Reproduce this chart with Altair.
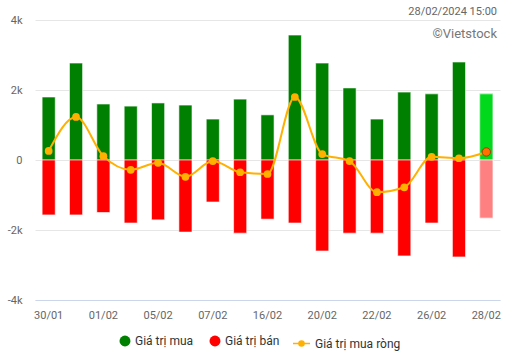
import altair as alt
import pandas as pd

dates = ["30/01", "31/01", "01/02", "02/02", "05/02", "06/02", "07/02", "08/02", "16/02",
         "19/02", "20/02", "21/02", "22/02", "23/02", "26/02", "27/02", "28/02"]
shown_labels = ["30/01", "01/02", "05/02", "07/02", "16/02", "20/02", "22/02", "26/02", "28/02"]
buy = [1800, 2770, 1600, 1540, 1630, 1570, 1170, 1740, 1290, 3570, 2770, 2060, 1170, 1940, 1890, 2800, 1890]
sell = [-1570, -1570, -1500, -1800, -1710, -2060, -1200, -2090, -1690, -1800, -2600, -2090, -2090, -2740, -1800, -2770, -1660]
net = [260, 1230, 110, -280, -80, -480, -30, -350, -400, 1800, 170, -30, -920, -780, 90, 50, 230]
series_names = ["Giá trị mua", "Giá trị bán", "Giá trị mua ròng"]
stamp = ["28/02/2024 15:00"]
source = ["©Vietstock"]
last_date = dates[-1]

bars_df = pd.DataFrame(
    [{"date": d, "series": series_names[0], "value": v} for d, v in zip(dates, buy)]
    + [{"date": d, "series": series_names[1], "value": v} for d, v in zip(dates, sell)]
)
net_df = pd.DataFrame({"date": dates, "value": net, "series": [series_names[2]] * len(dates)})

FONT = "Roboto"
GREEN, RED, ORANGE = "#008000", "#ff0000", "#ffb000"

x_axis = alt.Axis(values=shown_labels, title=None, labelAngle=0, labelColor="#666666",
                  labelFontSize=11, labelFont=FONT, ticks=False, domainColor="#ccd6eb",
                  labelPadding=9, grid=False)
y_axis = alt.Axis(values=[-4000, -2000, 0, 2000, 4000], title=None,
                  labelExpr="datum.value == 0 ? '0' : datum.value/1000 + 'k'",
                  labelColor="#666666", labelFontSize=11, labelFont=FONT,
                  ticks=False, domain=False, gridColor="#e6e6e6", labelPadding=13)
x_scale = alt.Scale(paddingInner=0.52, paddingOuter=0.26)
y_scale = alt.Scale(domain=[-4000, 4000], nice=False)


def X():
    return alt.X("date:N", sort=dates, scale=x_scale, axis=x_axis)


def Y():
    return alt.Y("value:Q", stack=None, scale=y_scale, axis=y_axis)


bars = alt.Chart(bars_df).mark_bar(stroke="white", strokeWidth=1, strokeOpacity=0.6).encode(
    x=X(), y=Y(),
    color=alt.Color("series:N", scale=alt.Scale(domain=series_names[:2], range=[GREEN, RED]),
                    legend=alt.Legend(orient="none", legendX=84, legendY=315, direction="horizontal",
                                      title=None, symbolType="circle", symbolSize=120,
                                      labelFontSize=12, labelColor="#333333", labelFont=FONT,
                                      columnPadding=15, symbolStrokeWidth=0))
)

bars_last = alt.Chart(bars_df).transform_filter(alt.datum.date == last_date).mark_bar(
    stroke="white", strokeWidth=1, strokeOpacity=0.6).encode(
    x=X(), y=Y(),
    color=alt.condition(alt.datum.value > 0, alt.value("#00d91c"), alt.value("#ff8080"))
)

line = alt.Chart(net_df).mark_line(interpolate="monotone", strokeWidth=2).encode(
    x=X(), y=Y(),
    stroke=alt.Stroke("series:N", scale=alt.Scale(domain=[series_names[2]], range=[ORANGE]),
                      legend=alt.Legend(orient="none", legendX=257, legendY=314, title=None,
                                        symbolType="M-1,0L1,0M-0.3,0A0.3,0.3,0,1,1,0.3,0A0.3,0.3,0,1,1,-0.3,0Z",
                                        symbolSize=289, symbolFillColor=ORANGE, symbolStrokeWidth=1.5,
                                        labelFontSize=12, labelColor="#333333", labelFont=FONT))
)

points = alt.Chart(net_df).transform_filter(alt.datum.date != last_date).mark_circle(
    size=60, color=ORANGE, opacity=1).encode(x=X(), y=Y())

point_last = alt.Chart(net_df).transform_filter(alt.datum.date == last_date).mark_point(
    size=70, filled=True, fill="#ff7000", stroke="#a04000", strokeWidth=1, opacity=1).encode(
    x=X(), y=Y())

stamp_txt = alt.Chart(pd.DataFrame({"t": stamp})).mark_text(
    align="right", baseline="middle", fontSize=11, color="#666666", font=FONT).encode(
    text="t:N", x=alt.value(462), y=alt.value(-8))
source_txt = alt.Chart(pd.DataFrame({"t": source})).mark_text(
    align="right", baseline="middle", fontSize=13, color="#777777", font=FONT).encode(
    text="t:N", x=alt.value(462), y=alt.value(14))

chart = alt.layer(bars, bars_last, line, points, point_last, stamp_txt, source_txt).properties(
    width=465, height=280, autosize=alt.AutoSizeParams(type="none"), background="white",
    padding={"left": 35, "top": 20, "right": 10, "bottom": 55}
).resolve_scale(color="independent").configure_view(stroke=None, strokeWidth=0).configure_axisY(
    domain=False, ticks=False
).configure_axisX(grid=False)

chart.save("out.html", embed_options={"renderer": "svg", "actions": False})
